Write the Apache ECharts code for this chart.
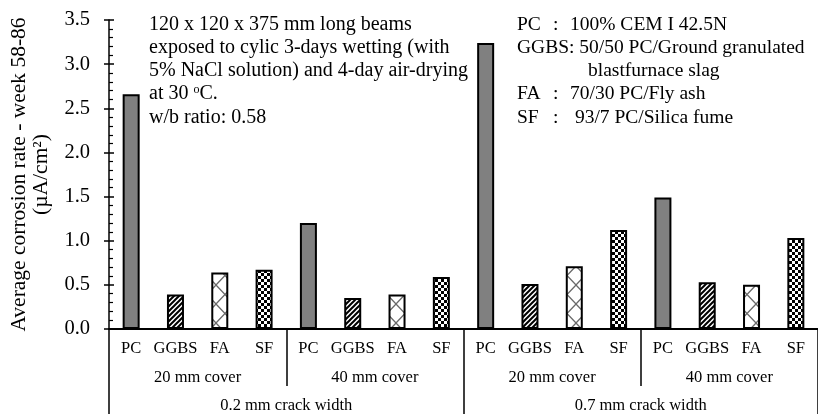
<!DOCTYPE html>
<html>
<head>
<meta charset="utf-8">
<script src="https://cdn.jsdelivr.net/npm/echarts@6/dist/echarts.min.js"></script>
<style>
  html, body { margin: 0; padding: 0; background: #fff; }
  #chart { width: 818px; height: 414px; }
</style>
</head>
<body>
<div id="chart"></div>
<script>
// Binder types repeated within every cover group
const binders = ['PC', 'GGBS', 'FA', 'SF'];
// Cover depth groups (second label row)
const covers = ['20 mm cover', '40 mm cover', '20 mm cover', '40 mm cover'];
// Crack width groups (third label row)
const crackWidths = ['0.2 mm crack width', '0.7 mm crack width'];
// Average corrosion rate, µA/cm², week 58-86, in category order
const corrosionRates = [2.66, 0.39, 0.64, 0.67, 1.20, 0.35, 0.39, 0.59, 3.24, 0.51, 0.71, 1.12, 1.49, 0.53, 0.50, 1.03];
// Value axis range and step
const yMin = 0, yMax = 3.5, yStep = 0.5;

const exposureNote = [
  '120 x 120 x 375 mm long beams',
  'exposed to cylic 3-days wetting (with',
  '5% NaCl solution) and 4-day air-drying',
  'at 30 {sup|o}C.',
  'w/b ratio: 0.58'
];
const binderKey = [
  ['PC', ':', '100% CEM I 42.5N'],
  ['GGBS: 50/50 PC/Ground granulated', '', ''],
  ['', '', 'blastfurnace slag'],
  ['FA', ':', '70/30 PC/Fly ash'],
  ['SF', ':', ' 93/7 PC/Silica fume']
];

const categories = [];
for (let k = 0; k < covers.length; k++) categories.push(...binders);

// Fill patterns for each binder
function tile(w, h, draw) {
  const c = document.createElement('canvas');
  c.width = w; c.height = h;
  const g = c.getContext('2d');
  g.fillStyle = '#fff';
  g.fillRect(0, 0, w, h);
  draw(g, w, h);
  return c;
}
const hatch = tile(5, 5, (g) => {
  g.strokeStyle = '#000'; g.lineWidth = 2;
  g.beginPath();
  g.moveTo(-1, 6); g.lineTo(6, -1);
  g.moveTo(-1, 1); g.lineTo(1, -1);
  g.moveTo(4, 6); g.lineTo(6, 4);
  g.stroke();
});
const cross = tile(18, 19, (g, w, h) => {
  g.strokeStyle = '#6a6a6a'; g.lineWidth = 1.3;
  g.beginPath();
  g.moveTo(0, 0); g.lineTo(w, h);
  g.moveTo(w, 0); g.lineTo(0, h);
  g.stroke();
});
const checker = tile(6, 6, (g) => {
  g.fillStyle = '#000';
  g.fillRect(0, 0, 3, 3);
  g.fillRect(3, 3, 3, 3);
});
const fills = [
  '#808080',
  { image: hatch, repeat: 'repeat' },
  { image: cross, repeat: 'repeat' },
  { image: checker, repeat: 'repeat' }
];

const serif = 'Liberation Serif';
const chart = echarts.init(document.getElementById('chart'), null, { renderer: 'canvas' });

const graphics = [];
exposureNote.forEach((line, i) => {
  graphics.push({
    type: 'text', left: 149, top: 26 + i * 23.2 - 11.5,
    style: {
      text: line, fill: '#000', font: '20px ' + serif,
      rich: { sup: { fontSize: 12, fontFamily: serif, verticalAlign: 'top', padding: [0, 0, 8, 0] } }
    }
  });
});
const keyX = [517, 553, 570];
binderKey.forEach((row, i) => {
  row.forEach((txt, j) => {
    if (!txt) return;
    let x = keyX[j];
    if (i === 2) x = 588;
    graphics.push({
      type: 'text', left: x, top: 26.5 + i * 23.1 - 11.5,
      style: { text: txt, fill: '#000', font: '19.5px ' + serif }
    });
  });
});

const option = {
  animation: false,
  backgroundColor: '#fff',
  grid: { left: 107, top: 20, width: 720, height: 310, containLabel: false },
  xAxis: [
    {
      type: 'category', position: 'bottom', data: categories,
      axisLine: { lineStyle: { color: '#000', width: 2 } },
      axisTick: { show: false },
      axisLabel: { interval: 0, margin: 11, color: '#000', fontFamily: serif, fontSize: 16.5 }
    },
    {
      type: 'category', position: 'bottom', data: covers,
      axisLine: { show: false },
      axisTick: { show: true, interval: 0, length: 57, lineStyle: { color: '#000', width: 1.5 } },
      axisLabel: { interval: 0, margin: 40, color: '#000', fontFamily: serif, fontSize: 16.5 }
    },
    {
      type: 'category', position: 'bottom', data: crackWidths,
      axisLine: { show: false },
      axisTick: { show: true, interval: 0, length: 90, lineStyle: { color: '#000', width: 1.5 } },
      axisLabel: { interval: 0, margin: 68, color: '#000', fontFamily: serif, fontSize: 16.5 }
    }
  ],
  yAxis: [
    {
      type: 'value', position: 'left', min: yMin, max: yMax, interval: yStep,
      name: 'Average corrosion rate - week 58-86\n(µA/cm²)',
      nameLocation: 'middle', nameRotate: 90, nameGap: 57,
      nameTextStyle: { color: '#000', fontFamily: serif, fontSize: 21.5, lineHeight: 22 },
      axisLine: { show: true, lineStyle: { color: '#000', width: 1.5 } },
      axisTick: { show: true, inside: true, length: 5, lineStyle: { color: '#000', width: 1.5 } },
      minorTick: { show: true, splitNumber: 5, length: 4, lineStyle: { color: '#000', width: 1.2 } },
      splitLine: { show: false },
      axisLabel: { margin: 19, color: '#000', fontFamily: serif, fontSize: 20.5,
        formatter: (v) => v.toFixed(1) }
    },
    {
      type: 'value', position: 'left', min: yMin, max: yMax, interval: yStep,
      axisLine: { show: false },
      axisTick: { show: true, inside: false, length: 5, lineStyle: { color: '#000', width: 1.5 } },
      axisLabel: { show: false },
      splitLine: { show: false }
    }
  ],
  series: [{
    type: 'bar', xAxisIndex: 0, yAxisIndex: 0,
    barWidth: 17,
    data: corrosionRates.map((v, i) => ({ value: v, itemStyle: { color: fills[i % binders.length] } })),
    itemStyle: { borderColor: '#000', borderWidth: 2 }
  }],
  graphic: graphics
};
chart.setOption(option);
</script>
</body>
</html>
